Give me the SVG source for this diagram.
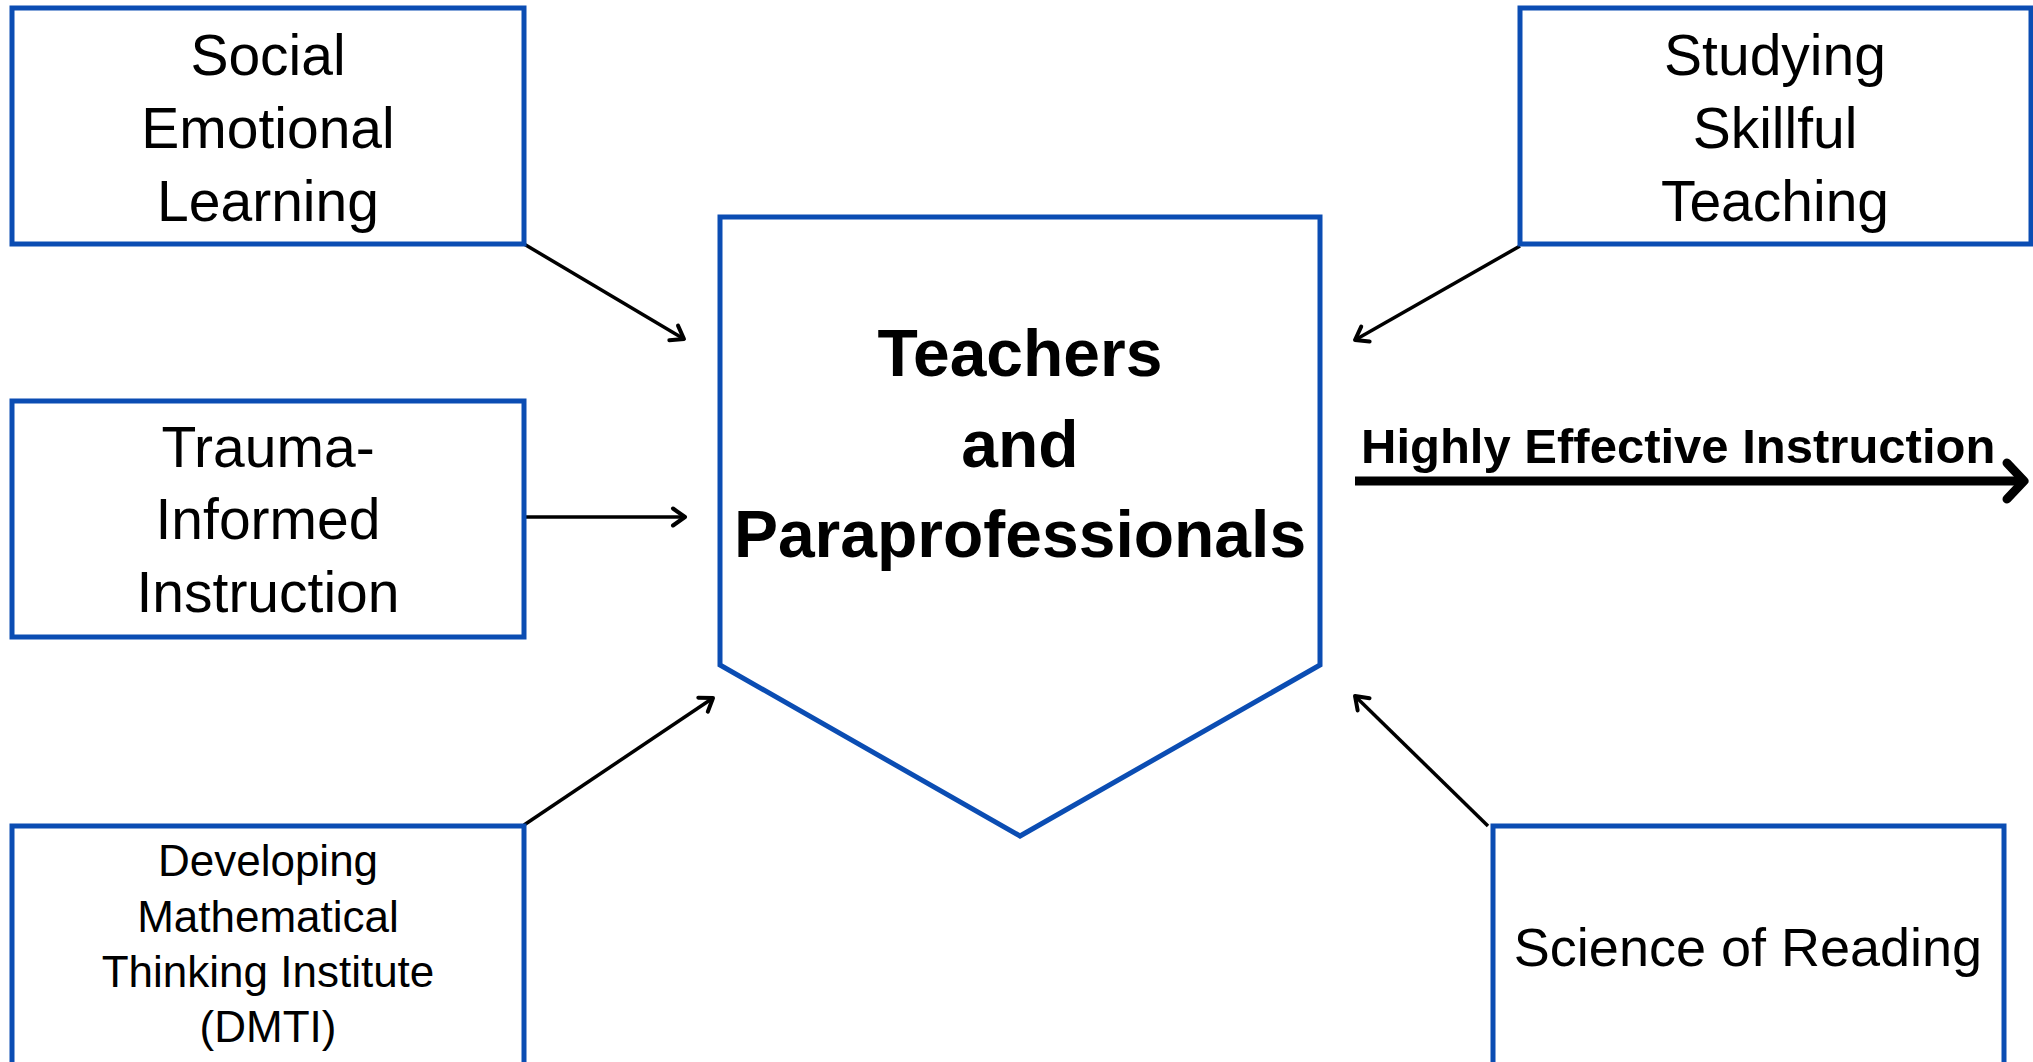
<svg xmlns="http://www.w3.org/2000/svg" width="2033" height="1062" viewBox="0 0 2033 1062">
  <style>
    .box { fill: #ffffff; stroke: #0B4DB3; stroke-width: 5; }
    .lbl { font-family: "Liberation Sans", Arial, sans-serif; font-size: 57px; fill: #000000; text-anchor: middle; }
    .lbl-sm { font-family: "Liberation Sans", Arial, sans-serif; font-size: 44px; fill: #000000; text-anchor: middle; }
    .title { font-family: "Liberation Sans", Arial, sans-serif; font-size: 66px; font-weight: bold; fill: #000000; text-anchor: middle; }
    .out-lbl { font-family: "Liberation Sans", Arial, sans-serif; font-size: 49px; font-weight: bold; fill: #000000; }
    .link { stroke: #000000; stroke-width: 3.5; fill: none; marker-end: url(#head); }
    .main { stroke: #000000; stroke-width: 9; fill: none; marker-end: url(#head-big); }
  </style>
  <defs>
    <marker id="head" markerUnits="userSpaceOnUse" markerWidth="30" markerHeight="30" refX="0" refY="0" orient="auto" viewBox="-15 -15 30 30" overflow="visible">
      <path d="M -12 -8.5 L 0 0 L -12 8.5" fill="none" stroke="#000000" stroke-width="4" stroke-linecap="round" stroke-linejoin="round"/>
    </marker>
    <marker id="head-big" markerUnits="userSpaceOnUse" markerWidth="60" markerHeight="60" refX="0" refY="0" orient="auto" viewBox="-30 -30 60 60" overflow="visible">
      <path d="M -17 -18 L 0 0 L -17 18" fill="none" stroke="#000000" stroke-width="9" stroke-linecap="round" stroke-linejoin="round"/>
    </marker>
  </defs>

  <rect width="2033" height="1062" fill="#ffffff"/>

  <!-- connectors -->
  <g id="connectors">
    <line class="link" x1="524" y1="244" x2="684" y2="339"/>
    <line class="link" x1="524" y1="517" x2="685" y2="517"/>
    <line class="link" x1="524" y1="825" x2="713" y2="698"/>
    <line class="link" x1="1520" y1="246" x2="1355" y2="340"/>
    <line class="link" x1="1488" y1="826" x2="1355" y2="696"/>
    <line class="main" x1="1355" y1="481" x2="2024" y2="481"/>
  </g>

  <!-- input nodes -->
  <g id="node-sel">
    <rect class="box" x="12" y="8" width="512" height="236"/>
    <text class="lbl" x="268" y="75">Social</text>
    <text class="lbl" x="268" y="148">Emotional</text>
    <text class="lbl" x="268" y="221">Learning</text>
  </g>

  <g id="node-trauma">
    <rect class="box" x="12" y="401" width="512" height="236"/>
    <text class="lbl" x="268" y="467">Trauma-</text>
    <text class="lbl" x="268" y="539">Informed</text>
    <text class="lbl" x="268" y="612">Instruction</text>
  </g>

  <g id="node-dmti">
    <rect class="box" x="12" y="826" width="512" height="240"/>
    <text class="lbl-sm" x="268" y="876">Developing</text>
    <text class="lbl-sm" x="268" y="932">Mathematical</text>
    <text class="lbl-sm" x="268" y="987">Thinking Institute</text>
    <text class="lbl-sm" x="268" y="1042">(DMTI)</text>
  </g>

  <g id="node-sst">
    <rect class="box" x="1520" y="8" width="511" height="236"/>
    <text class="lbl" x="1775" y="75">Studying</text>
    <text class="lbl" x="1775" y="148">Skillful</text>
    <text class="lbl" x="1775" y="221">Teaching</text>
  </g>

  <g id="node-sor">
    <rect class="box" x="1493" y="826" width="511" height="240"/>
    <text class="lbl" x="1748" y="966" style="font-size:54px">Science of Reading</text>
  </g>

  <!-- central node -->
  <g id="node-teachers">
    <path class="box" d="M 720 217 L 1320 217 L 1320 665 L 1020 836 L 720 665 Z"/>
    <text class="title" x="1020" y="376">Teachers</text>
    <text class="title" x="1020" y="467">and</text>
    <text class="title" x="1020" y="557">Paraprofessionals</text>
  </g>

  <!-- outcome label -->
  <g id="label-outcome">
    <text class="out-lbl" x="1361" y="463">Highly Effective Instruction</text>
  </g>
</svg>
